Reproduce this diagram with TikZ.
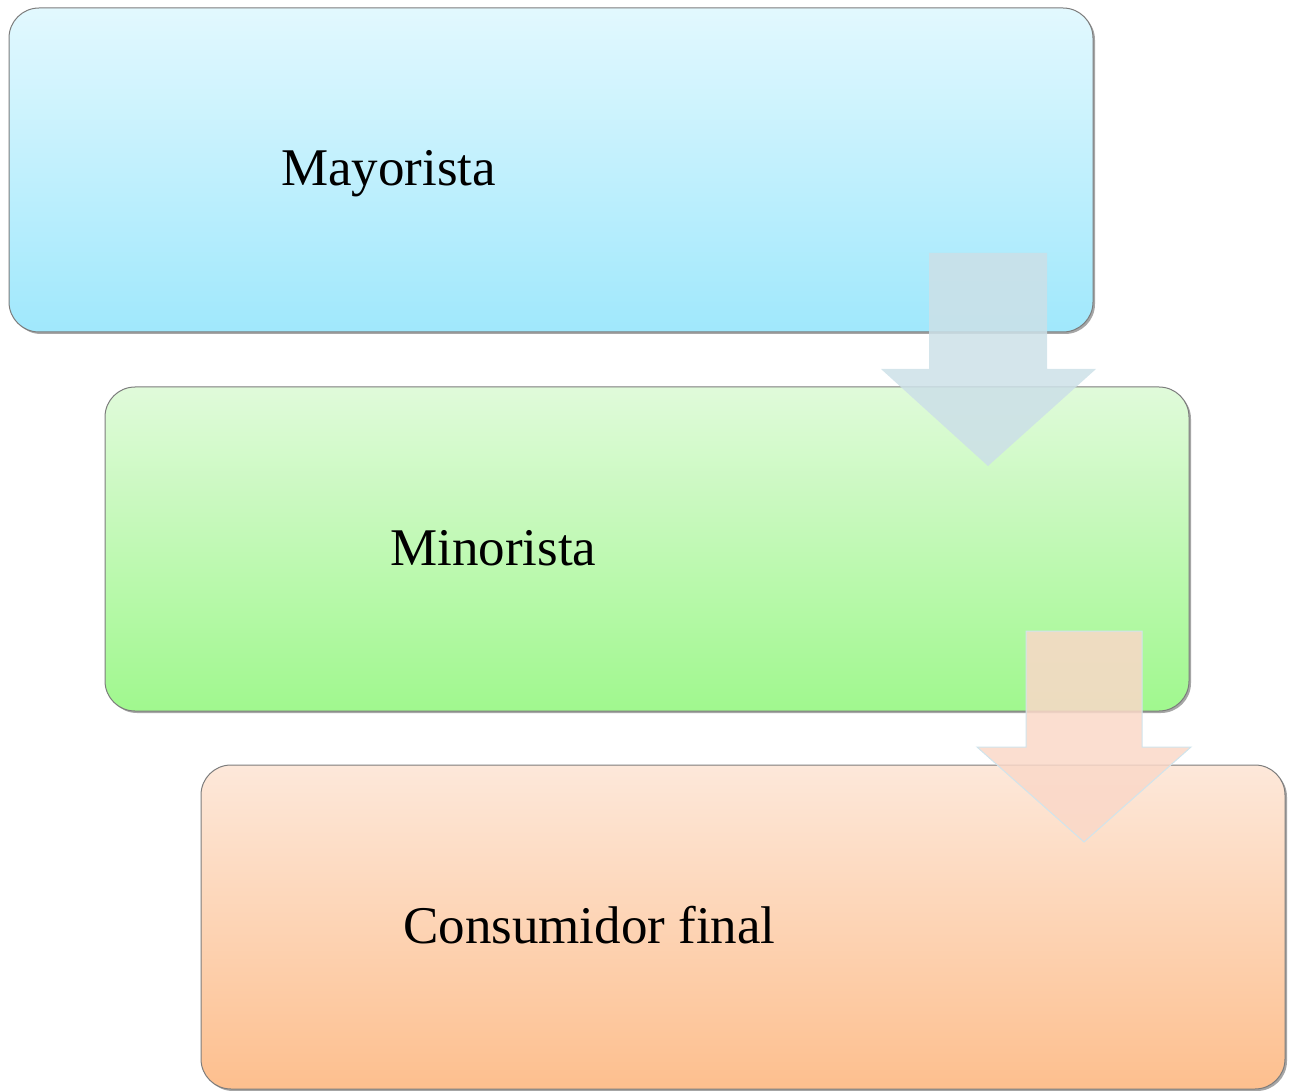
\documentclass[tikz,border=0pt]{standalone}
\usepackage{fontspec}
\setmainfont{Liberation Serif}
\usetikzlibrary{shadows}
\definecolor{bTop}{HTML}{E2F8FE}
\definecolor{bBot}{HTML}{A0E8FC}
\definecolor{gTop}{HTML}{E0FADA}
\definecolor{gBot}{HTML}{A0F88E}
\definecolor{oTop}{HTML}{FDE8DA}
\definecolor{oBot}{HTML}{FDBF8E}
\definecolor{arrA}{HTML}{CCE0E8}
\definecolor{arrB}{HTML}{FAD8C8}
\definecolor{arrLine}{HTML}{D0E4EC}
\definecolor{boxLine}{HTML}{7C7C7C}
\tikzset{
  box/.style={draw=boxLine, line width=1pt, rounded corners=30pt, minimum width=1084pt, minimum height=324pt, inner sep=0pt,
    drop shadow={shadow xshift=2pt, shadow yshift=-2pt, opacity=0.35, fill=black}},
  lbl/.style={anchor=base west, inner sep=0pt, font=\fontsize{53}{62}\selectfont},
  arrowA/.style={fill=arrA, fill opacity=0.85, draw=none},
  arrowB/.style={fill=arrB, fill opacity=0.85, draw=arrLine, line width=1pt, draw opacity=1},
}
\begin{document}
\begin{tikzpicture}[x=1pt,y=-1pt]
\useasboundingbox (0,0) rectangle (1294,1091);
\node[box, top color=bTop, bottom color=bBot] (may) at (551,170) {};
\node[box, top color=gTop, bottom color=gBot] (min) at (647,549) {};
\node[box, top color=oTop, bottom color=oBot] (con) at (743,927) {};
\node[lbl] (tmay) at (281,186) {Mayorista};
\node[lbl] (tmin) at (390,565) {Minorista};
\node[lbl] (tcon) at (403,943) {Consumidor final};
\path[arrowA] (929,253) -- (1047,253) -- (1047,369) -- (1096,369) -- (988,466) -- (881,369) -- (929,369) -- cycle;
\path[arrowB] (1026,631) -- (1142,631) -- (1142,747) -- (1191,747) -- (1084,842) -- (977,747) -- (1026,747) -- cycle;
\end{tikzpicture}
\end{document}
